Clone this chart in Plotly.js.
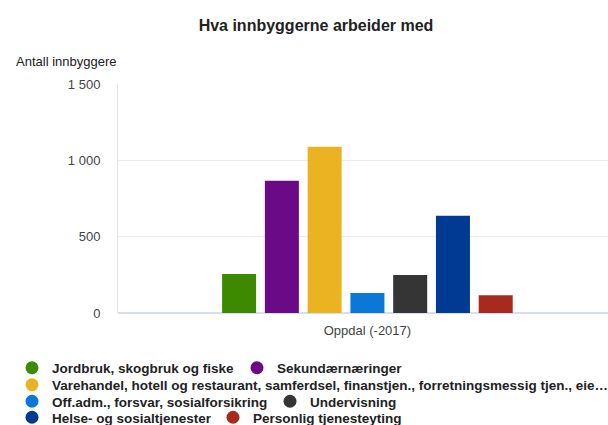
<!DOCTYPE html>
<html>
<head>
<meta charset="utf-8">
<script src="https://cdn.plot.ly/plotly-3.0.1.min.js"></script>
<style>
  body { margin: 0; background: #fff; }
  #chart { width: 608px; height: 425px; }
</style>
</head>
<body>
<div id="chart"></div>
<script>
// data
var region = ['Oppdal (-2017)'];
var sectors = [
  'Jordbruk, skogbruk og fiske',
  'Sekundærnæringer',
  'Varehandel, hotell og restaurant, samferdsel, finanstjen., forretningsmessig tjen., eie…',
  'Off.adm., forsvar, sosialforsikring',
  'Undervisning',
  'Helse- og sosialtjenester',
  'Personlig tjenesteyting'
];
var workers = [255, 866, 1089, 131, 249, 637, 116];
var colors = ['#3d8a00', '#6b0a86', '#ebb321', '#0b77d8', '#353535', '#003a92', '#a82a1e'];

// legend spots (px in the 608x425 window): text start x, row centre y
var legendX = [49, 274, 49, 49, 307, 49, 250];
var legendY = [368, 368, 385, 401.5, 401.5, 417.5, 417.5];

var W = 608, H = 425;
var font = 'Arial, "Liberation Sans", sans-serif';

var data = [];
var layout = {
  width: W,
  height: H,
  margin: {l: 118, r: 0, t: 84, b: 112, autoexpand: false},
  paper_bgcolor: '#fff',
  plot_bgcolor: '#fff',
  font: {family: font, size: 13, color: '#444'},
  title: {
    text: '<b>Hva innbyggerne arbeider med</b>',
    font: {family: font, size: 16, color: '#222'},
    xref: 'container', x: 316 / W, xanchor: 'center',
    yref: 'container', y: 1 - 25 / H, yanchor: 'middle'
  },
  separators: ', ',
  barmode: 'group',
  bargap: 0.389,
  bargroupgap: 0.205,
  showlegend: true,
  xaxis: {
    type: 'category',
    range: [-0.509, 0.491],
    showgrid: false,
    zeroline: false,
    showline: false,
    ticks: '',
    ticklabelstandoff: 8,
    tickfont: {size: 13, color: '#444'},
    fixedrange: true
  },
  yaxis: {
    range: [0, 1500],
    dtick: 500,
    separatethousands: true,
    showgrid: true,
    gridcolor: '#ebebeb',
    showline: true,
    linecolor: '#e6e6e6',
    zeroline: true,
    zerolinecolor: '#d6def0',
    zerolinewidth: 1.5,
    ticks: '',
    ticklabelstandoff: 14,
    tickfont: {size: 13, color: '#444'},
    fixedrange: true
  },
  annotations: [{
    text: 'Antall innbyggere',
    xref: 'paper', x: (14 - 118) / 490, xanchor: 'left',
    yref: 'paper', y: (313 - 61) / 229, yanchor: 'middle',
    showarrow: false,
    font: {family: font, size: 13, color: '#222'}
  }]
};

for (var i = 0; i < sectors.length; i++) {
  var lg = i === 0 ? 'legend' : 'legend' + (i + 1);

  // the bar itself
  data.push({
    type: 'bar',
    name: sectors[i],
    x: region,
    y: [workers[i]],
    marker: {color: colors[i]},
    showlegend: false,
    hoverinfo: 'name+y'
  });

  // round legend dot
  data.push({
    type: 'scatter',
    mode: 'markers',
    name: sectors[i],
    x: [null],
    y: [null],
    marker: {color: colors[i], size: 13, symbol: 'circle'},
    showlegend: true,
    legend: lg,
    hoverinfo: 'skip'
  });

  layout[lg] = {
    orientation: 'v',
    xref: 'container', x: (legendX[i] - 37) / W, xanchor: 'left',
    yref: 'container', y: 1 - legendY[i] / H, yanchor: 'middle',
    bgcolor: 'rgba(0,0,0,0)',
    borderwidth: 0,
    font: {family: font, size: 13.5, color: '#222', weight: 'bold'}
  };
}

Plotly.newPlot('chart', data, layout, {displayModeBar: false, staticPlot: true});
</script>
</body>
</html>
